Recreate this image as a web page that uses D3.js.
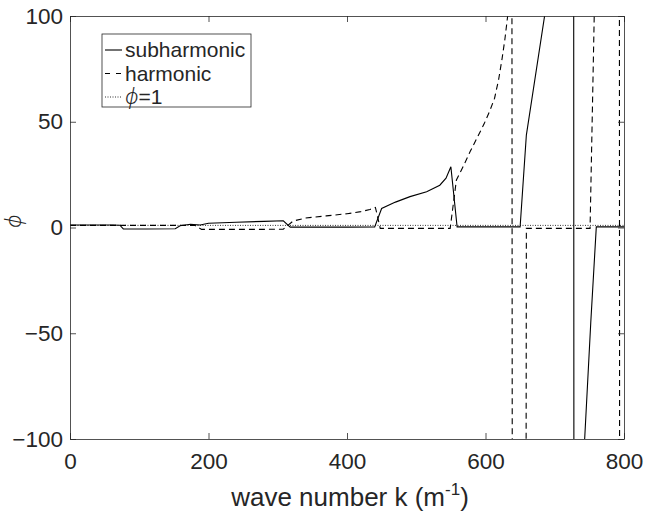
<!DOCTYPE html>
<html>
<head>
<meta charset="utf-8">
<script src="https://cdn.jsdelivr.net/npm/d3@7"></script>
<style>
  body { margin: 0; background: #fff; }
  text { font-family: "Liberation Sans", Arial, Helvetica, sans-serif; fill: #262626; }
</style>
</head>
<body>
<div id="chart"></div>
<script>
// data
var kSub = [0, 30, 60, 72, 77, 110, 152, 159, 174, 188, 200, 240, 280, 308, 318, 360, 400, 440,
  450, 470, 491, 515, 534, 543, 550, 559, 600, 650, 659, 690, 727, 728, 740, 752, 760, 800];
var phiSub = [1.2, 1.2, 1.2, 1.1, -0.7, -0.7, -0.6, 0.8, 1.5, 1.2, 2, 2.5, 2.9, 3.2, 0.2, 0.2, 0.2, 0.3,
  9, 12, 14.6, 16.9, 20, 23.3, 28.7, 0.3, 0.3, 0.3, 43.7, 110, 400, -400, -120, -45, 0.3, 0.3];

var kHarm = [0, 60, 120, 180, 190, 230, 270, 308, 322, 340, 370, 400, 420, 433, 441, 448, 500, 549,
  558, 568, 578, 588, 598, 606, 613, 619, 624, 628, 632, 636, 638, 639, 658, 659, 700, 751, 760, 793, 794, 800];
var phiHarm = [1, 1, 1, 1, -0.9, -0.9, -0.9, -0.8, 3, 4.5, 5.5, 6.5, 7.5, 8.5, 9.5, -0.4, -0.4, -0.4,
  22.5, 29, 36, 42.5, 49, 55, 61, 70, 80, 89, 100, 120, 200, -300, -300, -0.4, -0.4, -0.4, 150, 400, -400, -400];

var kOne = [0, 800];
var phiOne = [1, 1];

var xTicks = [0, 200, 400, 600, 800];
var yTicks = [-100, -50, 0, 50, 100];

var legendNames = ["subharmonic", "harmonic", "=1"];

// layout
var svgWidth = 645;
var svgHeight = 512;
var margin = { top: 16, right: 21, bottom: 73, left: 70 };
var width = svgWidth - margin.left - margin.right;
var height = svgHeight - margin.top - margin.bottom;
var axisColor = "#262626";
var phiFont = '"Noto Sans", "DejaVu Sans", sans-serif';

var svg = d3.select("#chart").append("svg")
  .attr("width", svgWidth)
  .attr("height", svgHeight);

var g = svg.append("g")
  .attr("transform", `translate(${margin.left}, ${margin.top})`);

var x = d3.scaleLinear().domain([0, 800]).range([0, width]);
var y = d3.scaleLinear().domain([-100, 100]).range([height, 0]);

g.append("clipPath").attr("id", "clip")
  .append("rect").attr("width", width).attr("height", height);

// lines
var line = d3.line().x(d => x(d[0])).y(d => y(d[1]));
var plot = g.append("g").attr("clip-path", "url(#clip)");

plot.append("path")
  .datum(d3.zip(kOne, phiOne))
  .attr("d", line)
  .attr("fill", "none")
  .attr("stroke", "#333")
  .attr("stroke-width", 1)
  .attr("stroke-dasharray", "1,1.5");

plot.append("path")
  .datum(d3.zip(kHarm, phiHarm))
  .attr("d", line)
  .attr("fill", "none")
  .attr("stroke", "#000")
  .attr("stroke-width", 1.1)
  .attr("stroke-dasharray", "6,4");

plot.append("path")
  .datum(d3.zip(kSub, phiSub))
  .attr("d", line)
  .attr("fill", "none")
  .attr("stroke", "#000")
  .attr("stroke-width", 1.1);

// axes, ticks pointing inward on all four sides
var tickLen = 6;
var fontSize = 22.5;

var bottomAxis = d3.axisBottom(x).tickValues(xTicks).tickSizeInner(-tickLen).tickSizeOuter(0).tickPadding(14);
var topAxis = d3.axisTop(x).tickValues(xTicks).tickSizeInner(-tickLen).tickSizeOuter(0).tickFormat("");
var leftAxis = d3.axisLeft(y).tickValues(yTicks).tickSizeInner(-tickLen).tickSizeOuter(0).tickPadding(7);
var rightAxis = d3.axisRight(y).tickValues(yTicks).tickSizeInner(-tickLen).tickSizeOuter(0).tickFormat("");

function styleAxis(sel) {
  sel.select(".domain").attr("stroke", axisColor).attr("stroke-width", 0.8);
  sel.selectAll(".tick line").attr("stroke", axisColor).attr("stroke-width", 0.8);
  sel.selectAll(".tick text")
    .style("font-family", '"Liberation Sans", Arial, Helvetica, sans-serif')
    .style("font-size", fontSize + "px")
    .attr("fill", axisColor);
}

g.append("g").attr("transform", `translate(0, ${height})`).call(bottomAxis).call(styleAxis);
g.append("g").call(topAxis).call(styleAxis);
g.append("g").call(leftAxis).call(styleAxis);
g.append("g").attr("transform", `translate(${width}, 0)`).call(rightAxis).call(styleAxis);

// axis labels
var xLabel = g.append("text")
  .attr("x", width / 2 + 3)
  .attr("y", height + 67)
  .attr("text-anchor", "middle")
  .style("font-size", "26px");
xLabel.append("tspan").text("wave number k (m");
xLabel.append("tspan").attr("dy", -11).style("font-size", "17px").text("-1");
xLabel.append("tspan").attr("dy", 11).text(")");

g.append("text")
  .attr("transform", `translate(${-49}, ${y(3)}) rotate(-90)`)
  .attr("text-anchor", "middle")
  .style("font-size", "21px")
  .style("font-style", "italic")
  .style("font-weight", 300)
  .style("font-family", phiFont)
  .text("\u03D5");

// legend
var legend = g.append("g").attr("transform", "translate(32, 18)");
legend.append("rect")
  .attr("width", 149)
  .attr("height", 73)
  .attr("fill", "#fff")
  .attr("stroke", axisColor)
  .attr("stroke-width", 0.8);

var legendDash = [null, "5,6", "1,1.5"];
legendNames.forEach(function(name, i) {
  var row = legend.append("g").attr("transform", `translate(0, ${16 + i * 23.5})`);
  row.append("line")
    .attr("x1", 3).attr("x2", 20)
    .attr("stroke", i === 2 ? "#333" : "#000")
    .attr("stroke-width", 1.1)
    .attr("stroke-dasharray", legendDash[i]);
  var t = row.append("text")
    .attr("x", 23)
    .attr("dy", "0.35em")
    .style("font-size", "21px");
  if (i === 2) {
    t.append("tspan").style("font-style", "italic").style("font-weight", 300)
      .style("font-family", phiFont).text("\u03D5");
    t.append("tspan").text(name);
  } else {
    t.text(name);
  }
});
</script>
</body>
</html>
